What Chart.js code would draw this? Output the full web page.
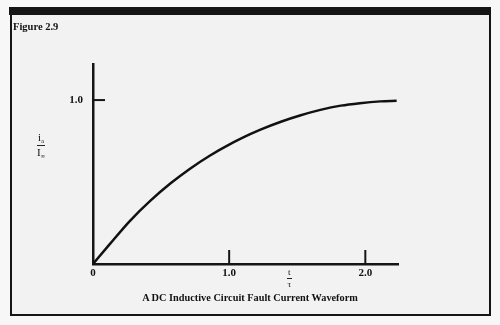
<!DOCTYPE html>
<html>
<head>
<meta charset="utf-8">
<script src="https://cdn.jsdelivr.net/npm/chart.js@4/dist/chart.umd.min.js"></script>
<style>
  html, body { margin: 0; padding: 0; background: #f7f7f7; }
  #wrap { position: relative; width: 500px; height: 325px; overflow: hidden;
          font-family: "Liberation Serif", "DejaVu Serif", serif; color: #111; }
  #panel { position: absolute; left: 10px; top: 8px; width: 480px; height: 307px; background: #f2f2f2; }
  #chart { position: absolute; left: 0; top: 0; }
  .rule { position: absolute; background: #151515; }
  .txt { position: absolute; font-weight: bold; white-space: nowrap; }
  .frac { position: absolute; text-align: center; font-size: 11px; line-height: 1; }
  .frac .num { display: block; padding: 0 1px 1px; border-bottom: 1px solid #222; }
  .frac .den { display: block; padding-top: 1px; }
  .frac sub { font-size: 6px; vertical-align: -2px; }
</style>
</head>
<body>
<div id="wrap">
  <div id="panel"></div>
  <canvas id="chart" width="500" height="325"></canvas>
  <!-- frame -->
  <div class="rule" style="left:9px;top:7px;width:482px;height:8px;"></div>
  <div class="rule" style="left:10px;top:12px;width:2px;height:304px;"></div>
  <div class="rule" style="left:489px;top:8px;width:2px;height:306px;"></div>
  <div class="rule" style="left:10px;top:314px;width:481px;height:2px;"></div>

  <div class="txt" style="left:13px;top:21px;font-size:10.5px;">Figure 2.9</div>
  <div class="frac" style="left:37px;top:132px;">
    <span class="num">i<sub>a</sub></span><span class="den">I<sub>∞</sub></span>
  </div>
  <div class="frac" style="left:287px;top:268px;font-size:9px;">
    <span class="num">t</span><span class="den">τ</span>
  </div>
  <div class="txt" style="left:0;width:500px;text-align:center;top:292px;font-size:10.3px;">A DC Inductive Circuit Fault Current Waveform</div>
</div>
<script>
// normalised time t/τ and current i/I∞ along the curve
const tVals = [0, 0.12, 0.27, 0.42, 0.57, 0.71, 0.86, 1.0, 1.15, 1.23, 1.38, 1.52, 1.67, 1.82, 1.96, 2.11, 2.23];
const iVals = [0, 0.118, 0.262, 0.385, 0.492, 0.58, 0.662, 0.728, 0.79, 0.82, 0.868, 0.906, 0.94, 0.966, 0.981, 0.992, 0.996];
const xTicks = [0, 1, 2];
const yTicks = [1];

const points = tVals.map((t, i) => ({ x: t, y: iVals[i] }));

// short tick marks pointing into the plot
const innerTicks = {
  id: 'innerTicks',
  afterDraw(chart) {
    const { ctx, scales: { x, y } } = chart;
    ctx.save();
    ctx.strokeStyle = '#151515';
    ctx.lineWidth = 2;
    xTicks.filter(v => v > 0).forEach(v => {
      const px = x.getPixelForValue(v);
      ctx.beginPath();
      ctx.moveTo(px, y.bottom);
      ctx.lineTo(px, y.bottom - 14);
      ctx.stroke();
    });
    yTicks.forEach(v => {
      const py = y.getPixelForValue(v);
      ctx.beginPath();
      ctx.moveTo(x.left, py);
      ctx.lineTo(x.left + 12, py);
      ctx.stroke();
    });
    ctx.restore();
  }
};

new Chart(document.getElementById('chart'), {
  type: 'line',
  data: {
    datasets: [{
      data: points,
      borderColor: '#111',
      borderWidth: 2.5,
      pointRadius: 0,
      cubicInterpolationMode: 'monotone',
      fill: false
    }]
  },
  options: {
    responsive: false,
    animation: false,
    layout: { padding: { left: 0, top: 64, right: 102, bottom: 0 } },
    plugins: { legend: { display: false }, tooltip: { enabled: false } },
    scales: {
      x: {
        type: 'linear',
        min: 0,
        max: 2.24,
        afterFit: s => { s.height = 61; },
        afterBuildTicks: s => { s.ticks = xTicks.map(v => ({ value: v })); },
        grid: { display: false, drawTicks: false },
        border: { display: true, color: '#151515', width: 2.5 },
        ticks: {
          padding: 3,
          maxRotation: 0,
          color: '#111',
          font: { family: 'Liberation Serif', size: 11, weight: 'bold' },
          callback: v => v === 0 ? '0' : v.toFixed(1)
        }
      },
      y: {
        type: 'linear',
        min: 0,
        max: 1.22,
        afterFit: s => { s.width = 93; },
        afterBuildTicks: s => { s.ticks = yTicks.map(v => ({ value: v })); },
        grid: { display: false, drawTicks: false },
        border: { display: true, color: '#151515', width: 2.5 },
        ticks: {
          padding: 10,
          color: '#111',
          font: { family: 'Liberation Serif', size: 11, weight: 'bold' },
          callback: v => v.toFixed(1)
        }
      }
    }
  },
  plugins: [innerTicks]
});
</script>
</body>
</html>
